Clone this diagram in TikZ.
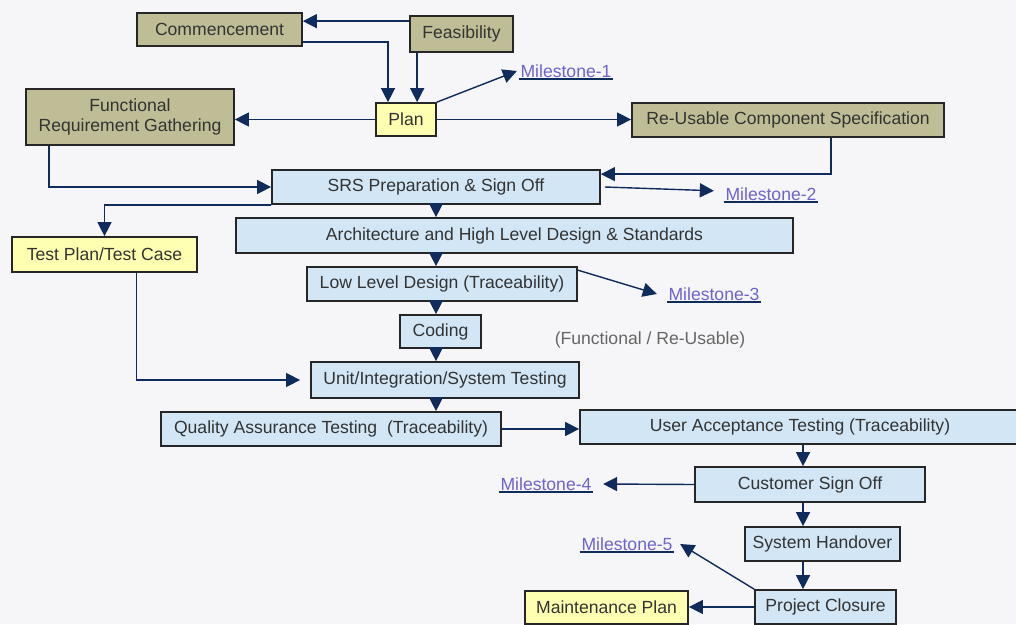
\documentclass[tikz,border=0pt]{standalone}
\usepackage{fontspec}
\setmainfont{Liberation Sans}
\usepackage{xcolor}
\usetikzlibrary{arrows.meta,positioning,calc}
\definecolor{olivebox}{RGB}{190,189,150}
\definecolor{bluebox}{RGB}{210,230,245}
\definecolor{yellowbox}{RGB}{255,255,178}
\definecolor{navy}{RGB}{16,44,92}
\definecolor{linkcol}{RGB}{110,100,205}
\definecolor{bgcol}{RGB}{246,245,247}
\tikzset{
  box/.style={draw=black!85,line width=1.2pt,text=black!80,inner sep=1pt,align=center,
    font=\fontsize{12.5}{14.5}\selectfont},
  olive/.style={box,fill=olivebox},
  lblue/.style={box,fill=bluebox},
  yell/.style={box,fill=yellowbox},
  mile/.style={text=linkcol,inner sep=1pt,font=\fontsize{12.5}{14.5}\selectfont},
  uline/.style={draw=navy,line width=1.3pt},
  arr/.style={draw=navy,line width=1pt,-{Triangle[length=10pt,width=10pt]}},
}
\begin{document}
\begin{tikzpicture}[x=0.025cm,y=-0.025cm]
	\fill[bgcol] (0,0) rectangle (1016,624);
	\useasboundingbox (0,0) rectangle (1016,624);
	% boxes
	\node[olive,minimum width=4.125cm,minimum height=0.825cm] (comm) at (219.5,29.5) {Commencement};
	\node[olive,minimum width=2.575cm,minimum height=0.9cm] (feas) at (461.5,34) {Feasibility};
	\node[yell,minimum width=1.5cm,minimum height=0.825cm] (plan) at (406,119.5) {Plan};
	\node[olive,minimum width=5.2cm,minimum height=1.4cm] (frg) at (130,117) {Functional\\Requirement Gathering};
	\node[olive,minimum width=7.8cm,minimum height=0.85cm] (rucs) at (788,120) {Re-Usable Component Specification};
	\node[lblue,minimum width=8.2cm,minimum height=0.85cm] (srs) at (436,187) {SRS Preparation \& Sign Off};
	\node[lblue,minimum width=13.925cm,minimum height=0.875cm] (arch) at (514.5,235.5) {Architecture and High Level Design \& Standards};
	\node[yell,minimum width=4.625cm,minimum height=0.875cm] (tp) at (104.5,254.5) {Test Plan/Test Case};
	\node[lblue,minimum width=6.75cm,minimum height=0.85cm] (lld) at (442,284) {Low Level Design (Traceability)};
	\node[lblue,minimum width=2.025cm,minimum height=0.825cm] (cod) at (440.5,331.5) {Coding};
	\node[lblue,minimum width=6.7cm,minimum height=0.9cm] (unit) at (445,380) {Unit/Integration/System Testing};
	\node[lblue,minimum width=8.5cm,minimum height=0.85cm] (qa) at (331,429) {Quality Assurance Testing\ \ (Traceability)};
	\node[lblue,minimum width=11cm,minimum height=0.85cm] (uat) at (800,427) {User Acceptance Testing (Traceability)};
	\node[lblue,minimum width=5.75cm,minimum height=0.875cm] (cso) at (810,484.5) {Customer Sign Off};
	\node[lblue,minimum width=3.875cm,minimum height=0.85cm] (sh) at (822.5,544) {System Handover};
	\node[lblue,minimum width=3.525cm,minimum height=0.85cm] (pc) at (825.5,607) {Project Closure};
	\node[yell,minimum width=4.075cm,minimum height=0.825cm] (mp) at (606.5,607.5) {Maintenance Plan};
	\node[text=black!60,inner sep=1pt,font=\fontsize{12.5}{14.5}\selectfont] (note) at (650,340) {(Functional / Re-Usable)};
	% milestones
	\node[mile] (m1) at (566,71) {Milestone-1};
	\node[mile] (m2) at (771,194) {Milestone-2};
	\node[mile] (m3) at (714,294) {Milestone-3};
	\node[mile] (m4) at (546,484) {Milestone-4};
	\node[mile] (m5) at (627,544) {Milestone-5};
	\foreach \m in {m1,m2,m3,m4,m5}
		\draw[uline] (\m.south west) -- (\m.south east);
	\coordinate (spine) at (436,0);
	\coordinate (spinetwo) at (803,0);
	% connectors
	\draw[arr] ([yshift=-0.15cm]feas.north west) -- ([yshift=-0.15cm]feas.north west -| comm.east);
	\draw[arr] ([yshift=0.125cm]comm.south east) -| ([xshift=-0.45cm]plan.north);
	\draw[arr] ([xshift=0.2cm]feas.south west) -- ([xshift=0.2cm]feas.south west |- plan.north);
	\draw[arr] (plan.north east) -- ([xshift=-0.05cm]m1.west);
	\draw[arr] (plan.west) -- (plan.west -| frg.east);
	\draw[arr] (plan.east) -- (plan.east -| rucs.west);
	\draw[arr] ([xshift=0.6cm]frg.south west) |- (srs.west);
	\draw[arr] ([xshift=1.075cm]rucs.south) |- ([yshift=-0.125cm]srs.north east);
	\draw[arr] ([xshift=0.1cm]srs.east) -- ([xshift=-0.25cm,yshift=0.08cm]m2.west);
	\draw[arr] (srs.south west) -| (tp.north);
	\draw[arr] (spine |- srs.south) -- (spine |- arch.north);
	\draw[arr] (spine |- arch.south) -- (spine |- lld.north);
	\draw[arr] ([yshift=-0.1cm]lld.north east) -- ([xshift=-0.25cm]m3.west);
	\draw[arr] (spine |- lld.south) -- (spine |- cod.north);
	\draw[arr] (spine |- cod.south) -- (spine |- unit.north);
	\draw[arr,shorten >=0.25cm] ([xshift=0.8cm]tp.south) |- (unit.west);
	\draw[arr] (spine |- unit.south) -- (spine |- qa.north);
	\draw[arr] (qa.east) -- (qa.east -| uat.west);
	\draw[arr] (spinetwo |- uat.south) -- (spinetwo |- cso.north);
	\draw[arr] (cso.west) -- ([xshift=0.25cm]m4.east);
	\draw[arr] (spinetwo |- cso.south) -- (spinetwo |- sh.north);
	\draw[arr] (spinetwo |- sh.south) -- (spinetwo |- pc.north);
	\draw[arr] (pc.north west) -- ([xshift=0.15cm]m5.east);
	\draw[arr] (pc.west) -- (pc.west -| mp.east);
\end{tikzpicture}
\end{document}
